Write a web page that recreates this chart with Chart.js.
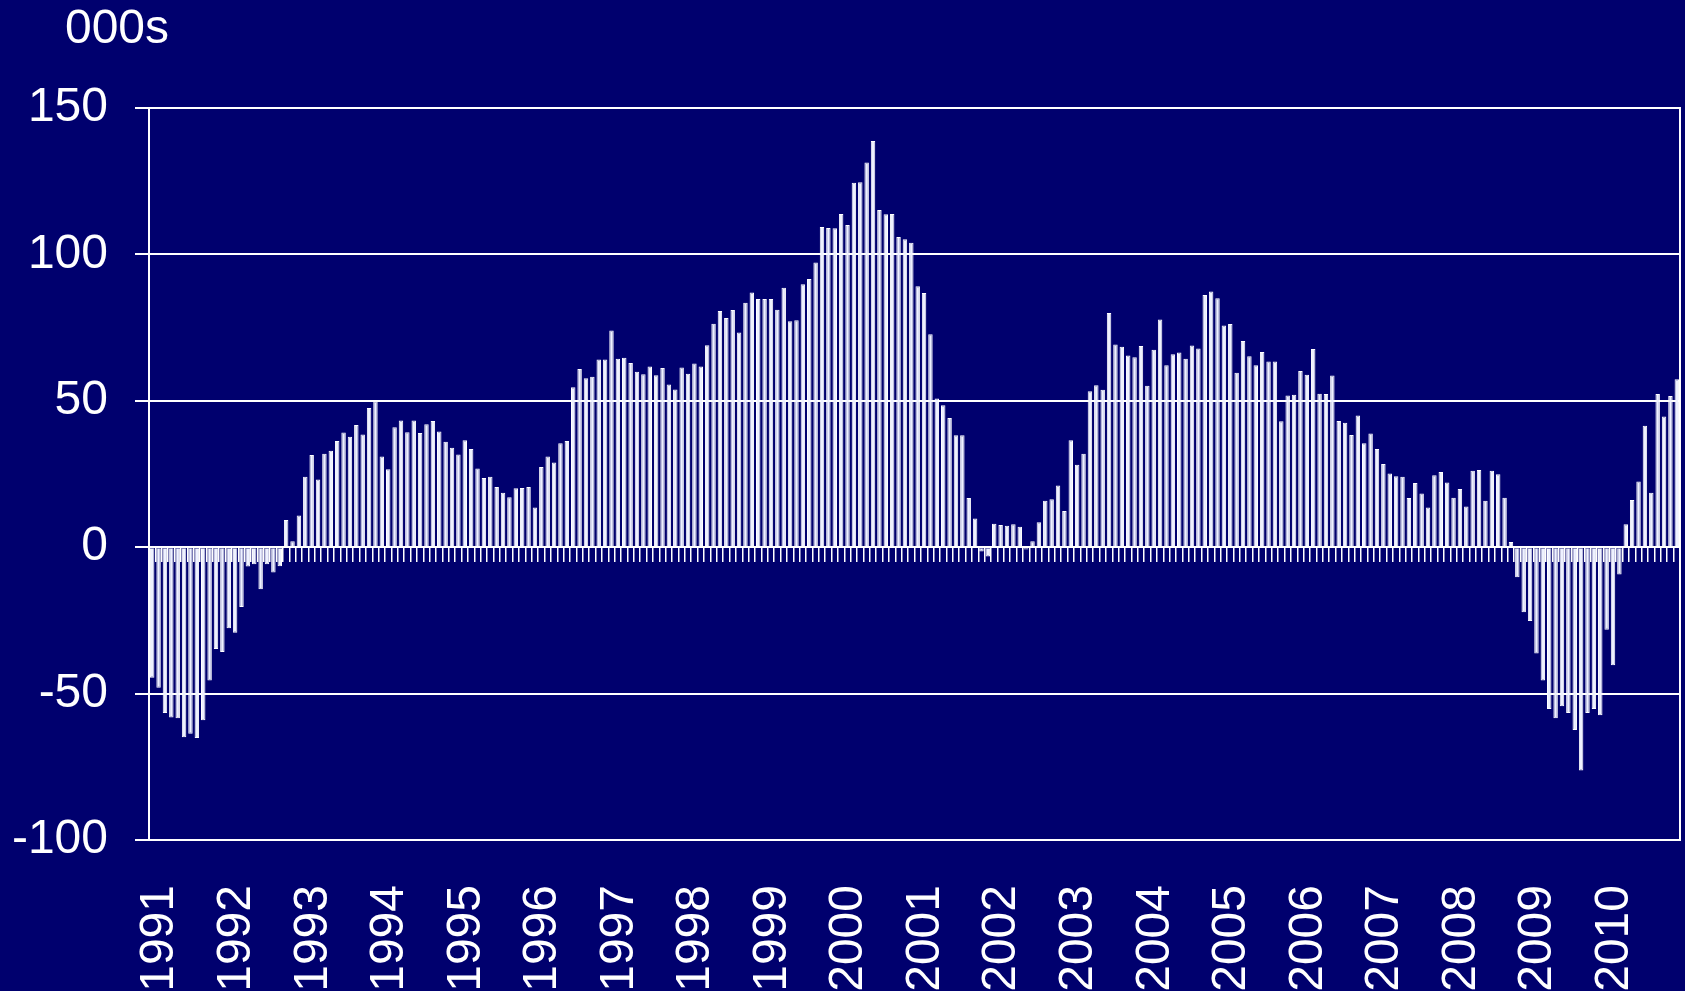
<!DOCTYPE html>
<html>
<head>
<meta charset="utf-8">
<script src="https://cdn.jsdelivr.net/npm/chart.js@4/dist/chart.umd.min.js"></script>
<style>
  html, body { margin: 0; padding: 0; background: #00006e; }
  #wrap { width: 1685px; height: 991px; }
</style>
</head>
<body>
<div id="wrap"><canvas id="myChart" width="1685" height="991"></canvas></div>
<script>
// monthly change, thousands
const years = ['1991', '1992', '1993', '1994', '1995', '1996', '1997', '1998', '1999', '2000',
               '2001', '2002', '2003', '2004', '2005', '2006', '2007', '2008', '2009', '2010'];
const months = ['Jan', 'Feb', 'Mar', 'Apr', 'May', 'Jun', 'Jul', 'Aug', 'Sep', 'Oct', 'Nov', 'Dec'];
const yTicks = [-100, -50, 0, 50, 100, 150];

const v1991 = [-44.6, -48.0, -56.6, -58.2, -58.4, -64.9, -63.7, -65.2, -59.1, -45.5, -34.8, -35.8];
const v1992 = [-27.7, -29.2, -20.4, -6.6, -5.8, -14.4, -5.8, -8.6, -6.5, 9.3, 2.0, 10.8];
const v1993 = [24.1, 31.5, 23.1, 31.9, 32.9, 36.3, 39.2, 37.7, 41.7, 38.5, 47.5, 49.8];
const v1994 = [31.0, 26.6, 41.0, 43.3, 39.3, 43.3, 39.0, 42.0, 43.1, 39.5, 36.0, 34.0];
const v1995 = [31.7, 36.5, 33.5, 26.9, 23.6, 24.1, 20.6, 18.6, 17.1, 20.1, 20.2, 20.6];
const v1996 = [13.6, 27.4, 31.0, 28.9, 35.5, 36.3, 54.6, 60.9, 57.7, 58.2, 64.1, 64.1];
const v1997 = [74.0, 64.4, 64.7, 62.9, 59.9, 59.1, 61.7, 58.7, 61.2, 55.6, 53.9, 61.4];
const v1998 = [59.2, 62.7, 61.7, 69.0, 76.3, 80.7, 78.3, 81.0, 73.3, 83.5, 87.0, 84.8];
const v1999 = [84.8, 84.8, 81.1, 88.6, 77.2, 77.5, 89.8, 91.6, 97.2, 109.4, 109.0, 108.9];
const v2000 = [113.8, 110.0, 124.5, 124.6, 131.4, 138.7, 115.2, 113.7, 113.8, 105.9, 105.2, 104.0];
const v2001 = [89.1, 86.8, 72.7, 50.8, 48.5, 44.1, 38.2, 38.2, 16.8, 9.8, -1.5, -3.2];
const v2002 = [8.0, 7.6, 7.3, 7.8, 7.0, -0.8, 2.0, 8.5, 15.9, 16.4, 21.1, 12.4];
const v2003 = [36.5, 28.2, 31.9, 53.3, 55.3, 53.8, 80.0, 69.2, 68.5, 65.5, 64.9, 68.7];
const v2004 = [55.1, 67.4, 77.8, 62.1, 65.9, 66.5, 64.4, 68.9, 67.9, 86.1, 87.3, 85.0];
const v2005 = [75.7, 76.2, 59.6, 70.4, 65.2, 62.1, 66.7, 63.4, 63.4, 43.0, 51.8, 52.1];
const v2006 = [60.2, 58.9, 67.7, 52.4, 52.3, 58.6, 43.1, 42.5, 38.3, 45.0, 35.5, 38.8];
const v2007 = [33.5, 28.4, 25.2, 24.2, 24.1, 16.8, 21.9, 18.3, 13.6, 24.6, 25.7, 22.1];
const v2008 = [16.9, 19.9, 13.9, 26.1, 26.4, 15.9, 26.1, 24.9, 16.9, 1.8, -10.3, -22.2];
const v2009 = [-25.2, -36.3, -45.5, -55.3, -58.4, -54.3, -56.6, -62.4, -76.3, -56.6, -55.3, -57.4];
const v2010 = [-28.2, -40.3, -9.3, 7.8, 16.1, 22.4, 41.5, 18.6, 52.3, 44.6, 51.6, 57.4];

const values = [].concat(v1991, v1992, v1993, v1994, v1995, v1996, v1997, v1998, v1999, v2000,
                         v2001, v2002, v2003, v2004, v2005, v2006, v2007, v2008, v2009, v2010);
const categories = years.flatMap(y => months.map(m => m + ' ' + y));

const fontFamily = 'Arial, "Liberation Sans", sans-serif';

// "000s" unit label above the value axis
const unitLabel = {
  id: 'unitLabel',
  afterDraw(chart) {
    const c = chart.ctx;
    c.save();
    c.fillStyle = '#ffffff';
    c.font = '48px ' + fontFamily;
    c.textAlign = 'center';
    c.textBaseline = 'alphabetic';
    c.fillText('000s', 117, 43);
    c.restore();
  }
};

const ctx = document.getElementById('myChart').getContext('2d');
const myChart = new Chart(ctx, {
  type: 'bar',
  data: {
    labels: categories,
    datasets: [{
      data: values,
      backgroundColor: '#eef1ff',
      borderColor: '#ffffff',
      borderWidth: 1,
      barPercentage: 0.7,
      categoryPercentage: 1.0
    }]
  },
  options: {
    responsive: false,
    animation: false,
    layout: { padding: { left: 12, right: 5, top: 108, bottom: 0 } },
    plugins: {
      legend: { display: false },
      tooltip: { enabled: false }
    },
    scales: {
      x: {
        position: 'bottom',
        grid: { display: false },
        border: { display: true, color: '#ffffff', width: 2 },
        ticks: {
          color: '#ffffff',
          font: { family: fontFamily, size: 48 },
          autoSkip: false,
          minRotation: 90,
          maxRotation: 90,
          padding: 37,
          labelOffset: 8,
          callback: function(value, index) {
            return index % 12 === 0 ? years[index / 12] : '';
          }
        },
        afterFit: function(axis) {
          axis.height = 151;
          axis.paddingLeft = 0;
          axis.paddingRight = 0;
        }
      },
      x2: {
        type: 'category',
        position: { y: 0 },
        offset: true,
        grid: { display: true, drawOnChartArea: false, drawTicks: true, tickLength: 14, color: '#ffffff', lineWidth: 1.5, offset: true },
        border: { display: true, color: '#ffffff', width: 2 },
        ticks: { display: false },
        afterFit: function(axis) {
          axis.height = 0;
          axis.paddingLeft = 0;
          axis.paddingRight = 0;
        }
      },
      y: {
        min: -100,
        max: 150,
        afterBuildTicks: function(axis) {
          axis.ticks = yTicks.map(v => ({ value: v }));
        },
        grid: { color: '#ffffff', lineWidth: 2, tickLength: 14, drawTicks: true },
        border: { display: true, color: '#ffffff', width: 2 },
        ticks: {
          color: '#ffffff',
          font: { family: fontFamily, size: 48 },
          padding: 27
        },
        afterFit: function(axis) {
          axis.width = 137;
          axis.paddingTop = 0;
          axis.paddingBottom = 0;
        }
      },
      y2: {
        position: 'right',
        min: -100,
        max: 150,
        grid: { drawOnChartArea: false, drawTicks: false },
        border: { display: true, color: '#ffffff', width: 2 },
        ticks: { display: false },
        afterFit: function(axis) {
          axis.width = 0;
          axis.paddingTop = 0;
          axis.paddingBottom = 0;
        }
      }
    }
  },
  plugins: [unitLabel]
});
</script>
</body>
</html>
